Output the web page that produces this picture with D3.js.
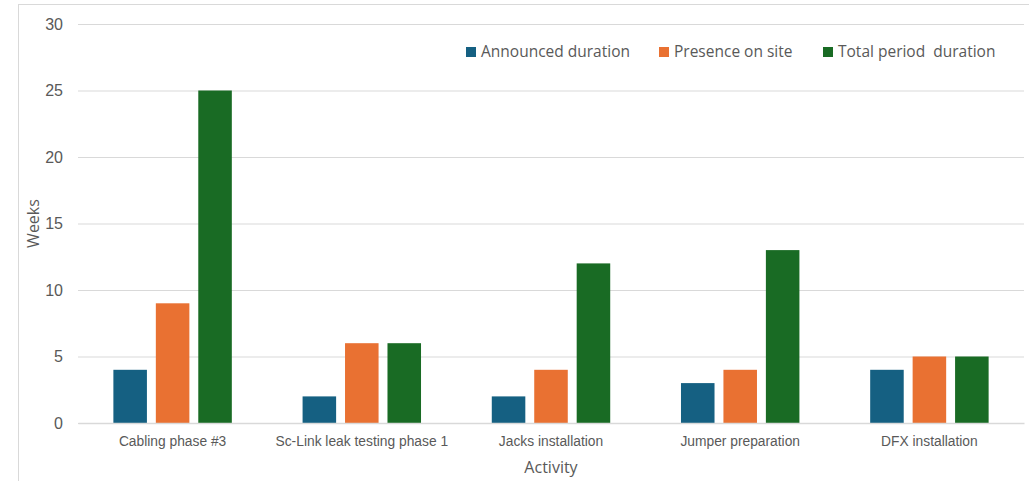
<!DOCTYPE html>
<html>
<head>
<meta charset="utf-8">
<script src="https://cdn.jsdelivr.net/npm/d3@7"></script>
<style>
  html, body { margin: 0; padding: 0; background: #fff; }
  svg { display: block; font-family: "Open Sans", "Noto Sans", sans-serif; }
</style>
</head>
<body>
<svg id="chart" width="1029" height="481"></svg>
<script>
// Activities and durations (weeks)
const categories = ["Cabling phase #3", "Sc-Link leak testing phase 1", "Jacks installation", "Jumper preparation", "DFX installation"];
const seriesNames = ["Announced duration", "Presence on site", "Total period  duration"];
const announced = [4, 2, 2, 3, 4];
const presence = [9, 6, 4, 4, 5];
const totalPeriod = [25, 6, 12, 13, 5];
const yTicks = [0, 5, 10, 15, 20, 25, 30];
const colors = ["#156082", "#E97132", "#196B24"];

const seriesValues = [announced, presence, totalPeriod];
const rows = categories.map((c, i) => ({
  category: c,
  values: seriesNames.map((s, j) => ({ series: s, value: seriesValues[j][i] }))
}));

const svg = d3.select("#chart");
const W = 1029, H = 481;
const margin = { left: 78, right: 5, top: 24, bottom: 58 };
const plotW = W - margin.left - margin.right;
const plotH = H - margin.top - margin.bottom;

// chart frame
svg.append("rect")
  .attr("x", 18.5).attr("y", 4.5)
  .attr("width", W - 18).attr("height", H)
  .attr("fill", "#fff").attr("stroke", "#d9d9d9").attr("stroke-width", 1);

const g = svg.append("g").attr("transform", `translate(${margin.left},${margin.top})`);

const x0 = d3.scaleBand().domain(categories).range([0, plotW]).paddingInner(0.374).paddingOuter(0.187);
const x1 = d3.scaleBand().domain(seriesNames).range([0, x0.bandwidth()]).paddingInner(0.21).paddingOuter(0);
const y = d3.scaleLinear().domain([0, 30]).range([plotH, 0]);
const color = d3.scaleOrdinal().domain(seriesNames).range(colors);

// gridlines + y tick labels
const yAxis = d3.axisLeft(y).tickValues(yTicks).tickSize(-plotW).tickPadding(15);
const yg = g.append("g").call(yAxis);
yg.select(".domain").remove();
yg.selectAll(".tick line").attr("stroke", "#d9d9d9").attr("stroke-width", 1);
yg.selectAll(".tick text").attr("fill", "#595959").style("font-size", "16px");

// bars
const groups = g.selectAll(".grp").data(rows).join("g")
  .attr("class", "grp")
  .attr("transform", d => `translate(${x0(d.category)},0)`);
groups.selectAll("rect").data(d => d.values).join("rect")
  .attr("x", d => x1(d.series))
  .attr("y", d => y(d.value))
  .attr("width", x1.bandwidth())
  .attr("height", d => y(0) - y(d.value))
  .attr("fill", d => color(d.series));

// category axis
const xAxis = d3.axisBottom(x0).tickSize(0).tickPadding(13);
const xg = g.append("g").attr("transform", `translate(0,${plotH})`).call(xAxis);
xg.select(".domain").attr("stroke", "#d9d9d9").attr("stroke-width", 1.3);
xg.selectAll(".tick text").attr("fill", "#595959").style("font-size", "13.8px");

// axis titles
svg.append("text")
  .attr("transform", `translate(39,${margin.top + plotH / 2}) rotate(-90)`)
  .attr("text-anchor", "middle")
  .attr("fill", "#595959").style("font-size", "16px")
  .text("Weeks");
svg.append("text")
  .attr("x", margin.left + plotW / 2).attr("y", 473)
  .attr("text-anchor", "middle")
  .attr("fill", "#595959").style("font-size", "16px")
  .text("Activity");

// legend
const legendX = [466, 659, 823];
const legend = svg.append("g").selectAll("g").data(seriesNames).join("g")
  .attr("transform", (d, i) => `translate(${legendX[i]},47)`);
legend.append("rect").attr("width", 10).attr("height", 10).attr("fill", d => color(d));
legend.append("text")
  .attr("x", 15).attr("y", 5).attr("dy", "0.35em")
  .attr("fill", "#595959").style("font-size", "15.5px")
  .style("white-space", "pre")
  .text(d => d);
</script>
</body>
</html>
